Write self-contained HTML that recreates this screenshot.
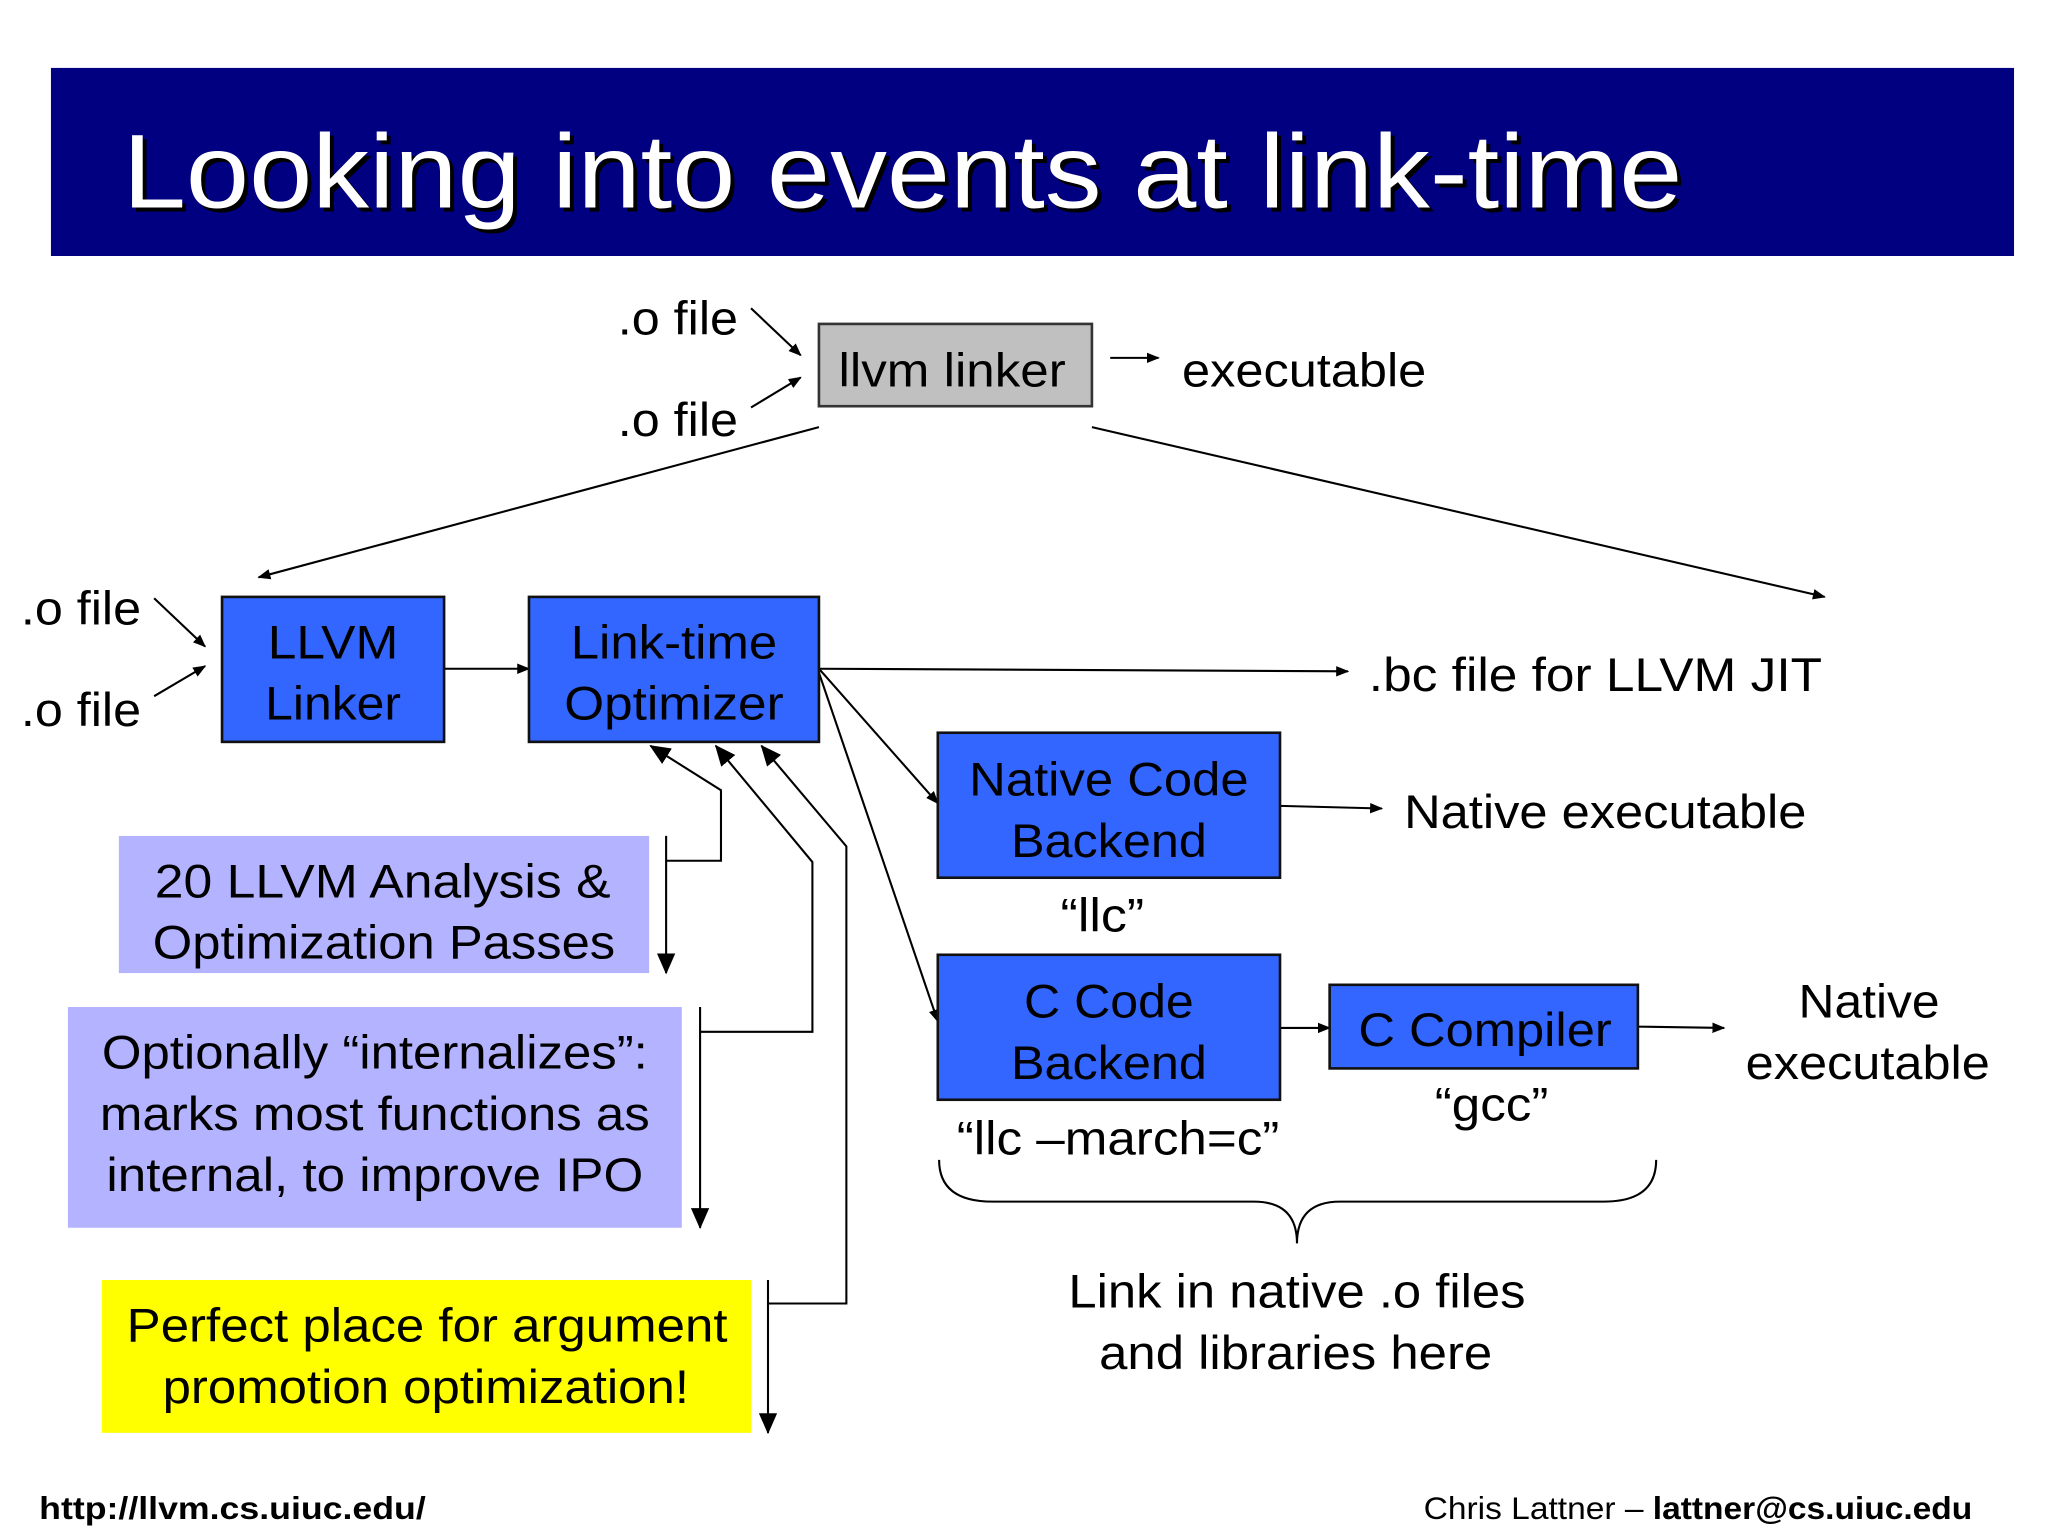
<!DOCTYPE html>
<html><head><meta charset="utf-8"><style>
html,body{margin:0;padding:0;background:#fff;}
svg{display:block;}
text{font-family:"Liberation Sans",Arial,sans-serif;fill:#000;}
</style></head><body>
<svg width="2048" height="1536" viewBox="0 0 1568 1176" xmlns="http://www.w3.org/2000/svg">
<defs>
<marker id="a" markerWidth="10" markerHeight="10" refX="9" refY="5" orient="auto" markerUnits="userSpaceOnUse" viewBox="0 0 10 10">
<path d="M0,1 L10,5 L0,9 z" fill="#000"/></marker>
<marker id="b" markerWidth="16" markerHeight="16" refX="15" refY="8" orient="auto" markerUnits="userSpaceOnUse" viewBox="0 0 16 16">
<path d="M0,1 L16,8 L0,15 z" fill="#000"/></marker>
</defs>
<rect x="0" y="0" width="1568" height="1176" fill="#fff"/>
<rect x="39" y="52" width="1503" height="144" fill="#000080"/>
<text x="97" y="162" font-size="80" textLength="1194" lengthAdjust="spacingAndGlyphs" style="fill:#000">Looking into events at link-time</text>
<text x="94" y="159" font-size="80" textLength="1194" lengthAdjust="spacingAndGlyphs" style="fill:#fff">Looking into events at link-time</text>

<g stroke="#000" stroke-width="1.6" fill="none">
<line x1="575" y1="236" x2="613" y2="272" marker-end="url(#a)"/>
<line x1="575" y1="312" x2="613" y2="289" marker-end="url(#a)"/>
<line x1="850" y1="274" x2="887" y2="274" marker-end="url(#a)"/>
<line x1="627" y1="327" x2="198" y2="442" marker-end="url(#a)"/>
<line x1="836" y1="327" x2="1397" y2="457" marker-end="url(#a)"/>
<line x1="118" y1="458" x2="157" y2="495" marker-end="url(#a)"/>
<line x1="118" y1="533" x2="157" y2="510" marker-end="url(#a)"/>
<line x1="340" y1="512" x2="405" y2="512" marker-end="url(#a)"/>
<line x1="627" y1="512" x2="1032" y2="514" marker-end="url(#a)"/>
<line x1="627" y1="512" x2="718" y2="615" marker-end="url(#a)"/>
<line x1="627" y1="515" x2="718" y2="782" marker-end="url(#a)"/>
<line x1="980" y1="617" x2="1058" y2="619" marker-end="url(#a)"/>
<line x1="980" y1="787" x2="1018" y2="787" marker-end="url(#a)"/>
<line x1="1254" y1="786" x2="1320" y2="787" marker-end="url(#a)"/>
<line x1="510" y1="640" x2="510" y2="745" marker-end="url(#b)"/>
<polyline points="510,659 552,659 552,605 498,571" marker-end="url(#b)"/>
<line x1="536" y1="771" x2="536" y2="940" marker-end="url(#b)"/>
<polyline points="536,790 622,790 622,660 548,571" marker-end="url(#b)"/>
<line x1="588" y1="980" x2="588" y2="1097" marker-end="url(#b)"/>
<polyline points="588,998 648,998 648,648 583,571" marker-end="url(#b)"/>
<path d="M719,888 Q719,920 760,920 L960,920 Q993,920 993,952 Q993,920 1026,920 L1228,920 Q1268,920 1268,888"/>
</g>

<rect x="627" y="248" width="209" height="63" fill="#C0C0C0" stroke="#333" stroke-width="2"/>
<text x="729" y="296" font-size="36" text-anchor="middle" textLength="174" lengthAdjust="spacingAndGlyphs">llvm linker</text>
<g font-size="36" lengthAdjust="spacingAndGlyphs">
<text x="473" y="256" textLength="92" lengthAdjust="spacingAndGlyphs">.o file</text>
<text x="473" y="334" textLength="92" lengthAdjust="spacingAndGlyphs">.o file</text>
<text x="905" y="296" textLength="187" lengthAdjust="spacingAndGlyphs">executable</text>
<text x="16" y="478" textLength="92" lengthAdjust="spacingAndGlyphs">.o file</text>
<text x="16" y="556" textLength="92" lengthAdjust="spacingAndGlyphs">.o file</text>
<text x="1048" y="529" textLength="347" lengthAdjust="spacingAndGlyphs">.bc file for LLVM JIT</text>
<text x="1075" y="634" textLength="308" lengthAdjust="spacingAndGlyphs">Native executable</text>
<text x="1431" y="779" text-anchor="middle" textLength="108" lengthAdjust="spacingAndGlyphs">Native</text>
<text x="1430" y="826" text-anchor="middle" textLength="187" lengthAdjust="spacingAndGlyphs">executable</text>
<text x="844" y="713" text-anchor="middle" textLength="64" lengthAdjust="spacingAndGlyphs">“llc”</text>
<text x="1142" y="858" text-anchor="middle" textLength="87" lengthAdjust="spacingAndGlyphs">“gcc”</text>
<text x="856" y="884" text-anchor="middle" textLength="247" lengthAdjust="spacingAndGlyphs">“llc –march=c”</text>
<text x="993" y="1001" text-anchor="middle" textLength="350" lengthAdjust="spacingAndGlyphs">Link in native .o files</text>
<text x="992" y="1048" text-anchor="middle" textLength="301" lengthAdjust="spacingAndGlyphs">and libraries here</text>
</g>

<g stroke="#111" stroke-width="2" fill="#3366FF">
<rect x="170" y="457" width="170" height="111"/>
<rect x="405" y="457" width="222" height="111"/>
<rect x="718" y="561" width="262" height="111"/>
<rect x="718" y="731" width="262" height="111"/>
<rect x="1018" y="754" width="236" height="64"/>
</g>
<g font-size="36" text-anchor="middle">
<text x="255" y="504" textLength="100" lengthAdjust="spacingAndGlyphs">LLVM</text>
<text x="255" y="551" textLength="104" lengthAdjust="spacingAndGlyphs">Linker</text>
<text x="516" y="504" textLength="158" lengthAdjust="spacingAndGlyphs">Link-time</text>
<text x="516" y="551" textLength="168" lengthAdjust="spacingAndGlyphs">Optimizer</text>
<text x="849" y="609" textLength="214" lengthAdjust="spacingAndGlyphs">Native Code</text>
<text x="849" y="656" textLength="150" lengthAdjust="spacingAndGlyphs">Backend</text>
<text x="849" y="779" textLength="130" lengthAdjust="spacingAndGlyphs">C Code</text>
<text x="849" y="826" textLength="150" lengthAdjust="spacingAndGlyphs">Backend</text>
<text x="1137" y="801" textLength="194" lengthAdjust="spacingAndGlyphs">C Compiler</text>
</g>

<rect x="91" y="640" width="406" height="105" fill="#B3B3FF"/>
<rect x="52" y="771" width="470" height="169" fill="#B3B3FF"/>
<rect x="78" y="980" width="497" height="117" fill="#FFFF00"/>
<g font-size="36" text-anchor="middle">
<text x="293" y="687" textLength="349" lengthAdjust="spacingAndGlyphs">20 LLVM Analysis &amp;</text>
<text x="294" y="734" textLength="354" lengthAdjust="spacingAndGlyphs">Optimization Passes</text>
<text x="287" y="818" textLength="418" lengthAdjust="spacingAndGlyphs">Optionally “internalizes”:</text>
<text x="287" y="865" textLength="421" lengthAdjust="spacingAndGlyphs">marks most functions as</text>
<text x="287" y="912" textLength="411" lengthAdjust="spacingAndGlyphs">internal, to improve IPO</text>
<text x="327" y="1027" textLength="460" lengthAdjust="spacingAndGlyphs">Perfect place for argument</text>
<text x="326" y="1074" textLength="403" lengthAdjust="spacingAndGlyphs">promotion optimization!</text>
</g>

<text x="30" y="1163" font-size="24" font-weight="bold" textLength="296" lengthAdjust="spacingAndGlyphs">http://llvm.cs.uiuc.edu/</text>
<text x="1090" y="1163" font-size="24" textLength="420" lengthAdjust="spacingAndGlyphs">Chris Lattner – <tspan font-weight="bold">lattner@cs.uiuc.edu</tspan></text>
</svg>
</body></html>
